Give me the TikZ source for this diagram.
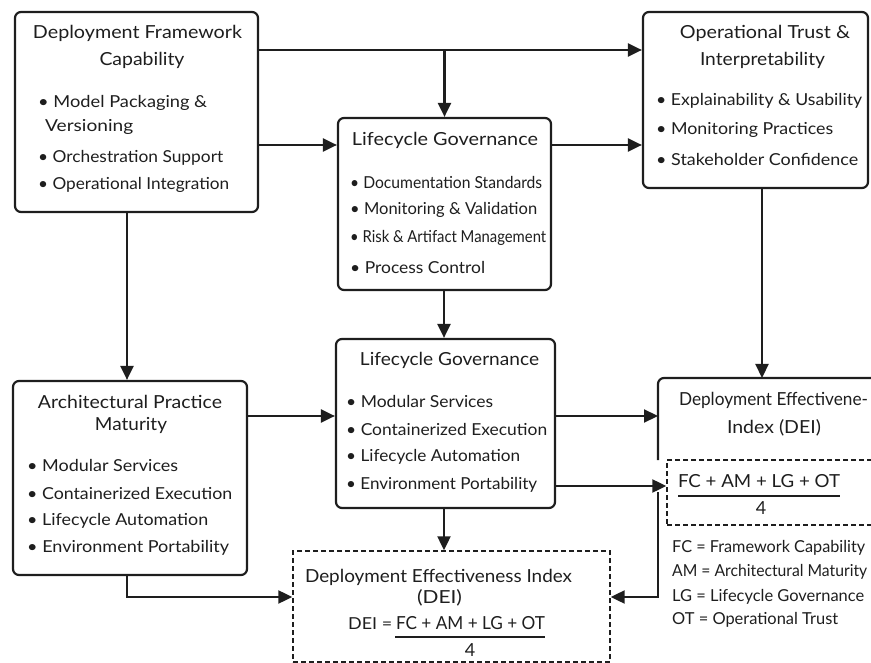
\documentclass[tikz,border=0pt]{standalone}
\usepackage{fontspec}
\usepackage{graphicx}
\setmainfont{Lato}
\usetikzlibrary{arrows.meta,fit}
\definecolor{ink}{HTML}{1E1E1E}
% set a line of text to a given width, keeping its height
\newcommand{\setwd}[2]{\resizebox{#1pt}{\height}{#2}}
\begin{document}
\begin{tikzpicture}[x=1pt,y=-1pt,
  box/.style={draw=ink, line width=2.2pt, rounded corners=6pt, inner sep=0pt},
  dbox/.style={draw=ink, line width=1.4pt, dash pattern=on 5pt off 3pt, inner sep=0pt},
  ttl/.style={text=ink, font=\fontsize{18}{21}\selectfont, inner sep=0pt, anchor=center},
  itm/.style={text=ink, font=\fontsize{16.5}{19}\selectfont, inner sep=0pt, anchor=west},
  arr/.style={draw=ink, line width=2.2pt, -{Triangle[length=14pt,width=13pt]}},
  conn/.style={draw=ink, line width=2.2pt}]
\useasboundingbox (0,0) rectangle (871,663);

% ---- boxes ----
\node[box, fit={(15,12) (258,212)}] (A) {};
\node[box, fit={(338,118) (551,290)}] (B) {};
\node[box, fit={(643,12) (868,188)}] (C) {};
\node[box, fit={(13,381) (247,575)}] (D) {};
\node[box, fit={(336,339) (555,508)}] (E) {};
\node[dbox, fit={(293,551) (610,662)}] (G) {};
\node[dbox, fit={(667,460) (885,525)}] (Fml) {};

% open frame of the index box (right side runs off the page)
\coordinate (Ftl) at (658,378);
\draw[conn, rounded corners=6pt] (658,460) -- (Ftl) -- (890,378);
\coordinate (Fbr) at (658,492);

% ---- box texts ----
\node[ttl] (A1) at (137.5,33) {\setwd{209}{Deployment Framework}};
\node[ttl] (A2) at (142,60) {\setwd{85}{Capability}};
\node[itm] (A3) at (38,103) {\setwd{169}{• Model Packaging \&}};
\node[itm] (A4) at (45,127) {\setwd{88}{Versioning}};
\node[itm] (A5) at (38,158) {\setwd{185}{• Orchestration Support}};
\node[itm] (A6) at (38,185) {\setwd{191}{• Operational Integration}};

\node[ttl] (B1) at (445,140) {\setwd{186}{Lifecycle Governance}};
\node[itm] (B2) at (350,182) {\setwd{192}{• Documentation Standards}};
\node[itm] (B3) at (350,210) {\setwd{187}{• Monitoring \& Validation}};
\node[itm] (B4) at (350,238) {\setwd{196}{• Risk \& Artifact Management}};
\node[itm] (B5) at (350,267) {\setwd{135}{• Process Control}};

\node[ttl] (C1) at (765,33) {\setwd{170}{Operational Trust \&}};
\node[ttl] (C2) at (762.5,60) {\setwd{125}{Interpretability}};
\node[itm] (C3) at (656,101) {\setwd{206}{• Explainability \& Usability}};
\node[itm] (C4) at (656,130) {\setwd{177}{• Monitoring Practices}};
\node[itm] (C5) at (656,159) {\setwd{202}{• Stakeholder Confidence}};

\node[ttl] (D1) at (130,402) {\setwd{184}{Architectural Practice}};
\node[ttl] (D2) at (131,425) {\setwd{72}{Maturity}};
\node[itm] (D3) at (27,465) {\setwd{151}{• Modular Services}};
\node[itm] (D4) at (27,493) {\setwd{205}{• Containerized Execution}};
\node[itm] (D5) at (27,521) {\setwd{181}{• Lifecycle Automation}};
\node[itm] (D6) at (27,548) {\setwd{202}{• Environment Portability}};

\node[ttl] (E1) at (449.5,360) {\setwd{179}{Lifecycle Governance}};
\node[itm] (E2) at (346,401) {\setwd{147}{• Modular Services}};
\node[itm] (E3) at (346,429) {\setwd{201}{• Containerized Execution}};
\node[itm] (E4) at (346,457) {\setwd{174}{• Lifecycle Automation}};
\node[itm] (E5) at (346,485) {\setwd{191}{• Environment Portability}};

\node[ttl] (F1) at (773.5,400) {\setwd{189}{Deployment Effectivene-}};
\node[ttl] (F2) at (774,428) {\setwd{94}{Index (DEI)}};
\node[ttl] (F3) at (759,481) {\setwd{162}{FC + AM + LG + OT}};
\draw[ink, line width=1.2pt] (678,496) -- (840,496);
\node[ttl] (F4) at (761,508) {4};
\node[itm] (F5) at (672,548) {\setwd{193}{FC = Framework Capability}};
\node[itm] (F6) at (672,572) {\setwd{195}{AM = Architectural Maturity}};
\node[itm] (F7) at (672,597) {\setwd{192}{LG = Lifecycle Governance}};
\node[itm] (F8) at (672,620) {\setwd{166}{OT = Operational Trust}};

\node[ttl] (G1) at (438.5,577) {\setwd{267}{Deployment Effectiveness Index}};
\node[ttl] (G2) at (439.5,598) {\setwd{45}{(DEI)}};
\node[itm] (G3) at (348,624) {\setwd{44}{DEI =}};
\node[ttl] (G4) at (470.5,623) {\setwd{149}{FC + AM + LG + OT}};
\draw[ink, line width=1.2pt] (395,637) -- (545,637);
\node[ttl] (G5) at (470,650) {4};

% ---- connector levels ----
\coordinate (y50) at (0,50);
\coordinate (y145) at (0,145);
\coordinate (y416) at (0,416);
\coordinate (y486) at (0,486);
\coordinate (y597) at (0,597);
\coordinate (x127) at (127,0);
\coordinate (x444) at (444,0);
\coordinate (x762) at (762,0);

% ---- connectors ----
\draw[arr] (A.east |- y50) -- (C.west |- y50);
\draw[arr] (B.north |- y50) -- (B.north);
\draw[arr] (A.east |- y145) -- (B.west |- y145);
\draw[arr] (B.east |- y145) -- (C.west |- y145);
\draw[arr] (A.south -| x127) -- (D.north -| x127);
\draw[arr] (B.south -| x444) -- (E.north -| x444);
\draw[arr] (C.south -| x762) -- (Ftl -| x762);
\draw[arr] (D.east |- y416) -- (E.west |- y416);
\draw[arr] (E.east |- y416) -- (Ftl |- y416);
\draw[arr] (E.east |- y486) -- (Fml.west |- y486);
\draw[arr] (E.south -| x444) -- (G.north -| x444);
\draw[arr] (D.south -| x127) |- (G.west |- y597);
\draw[arr] (Fbr) |- (G.east |- y597);
\end{tikzpicture}
\end{document}
